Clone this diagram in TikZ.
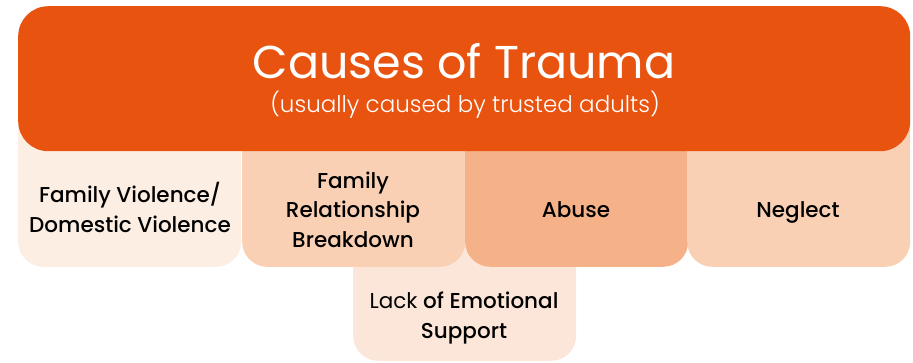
\documentclass[tikz,border=0pt]{standalone}
\usepackage{fontspec}
\setmainfont{Poppins}
\newfontfamily\regfont{Poppins}
\newfontfamily\medfont{Poppins Medium}
\newfontfamily\lightfont{Poppins Light}
\definecolor{headorange}{RGB}{232,83,16}
\definecolor{paleA}{RGB}{253,238,228}
\definecolor{paleB}{RGB}{249,208,179}
\definecolor{paleC}{RGB}{245,178,136}
\definecolor{paleD}{RGB}{252,230,217}
\begin{document}
\begin{tikzpicture}[x=1pt,y=-1pt,
  causebox/.style={rectangle, rounded corners=25pt, draw=none, inner sep=0pt,
    minimum width=223pt, anchor=south west},
  causetext/.style={align=center, text=black, inner sep=0pt, anchor=base,
    font=\medfont\fontsize{21.5}{29.5}\selectfont},
  headbox/.style={rectangle, rounded corners=30pt, draw=none, fill=headorange,
    inner sep=0pt, minimum width=892pt, minimum height=145pt, anchor=north west}]
\useasboundingbox (0,0) rectangle (913,362);

% lower box, partly hidden behind the row above it
\node[causebox, fill=paleD, minimum height=161pt] (support) at (353,361) {};
% row of four causes
\node[causebox, fill=paleA, minimum height=207pt] (violence) at (18,267) {};
\node[causebox, fill=paleB, minimum height=207pt] (breakdown) at (242,267) {};
\node[causebox, fill=paleC, minimum height=207pt] (abuse) at (465,267) {};
\node[causebox, fill=paleB, minimum height=207pt] (neglect) at (687,267) {};
% header on top
\node[headbox] (head) at (18,6) {};

% labels (placed on the baseline of their last line)
\node[text=white, inner sep=0pt, anchor=base, font=\regfont\fontsize{46}{46}\selectfont] (title) at (464,78) {Causes of Trauma};
\node[text=white, inner sep=0pt, anchor=base, font=\lightfont\fontsize{23}{23}\selectfont] (subtitle) at (465,112) {(usually caused by trusted adults)};

\node[causetext] (tviolence) at (130,232) {Family Violence/\\Domestic Violence};
\node[causetext] (tbreakdown) at (353,247) {Family\\Relationship\\Breakdown};
\node[causetext] (tabuse) at (576,217) {Abuse};
\node[causetext] (tneglect) at (798,217) {Neglect};
\node[causetext] (tsupport) at (464,338) {{\regfont Lack} of Emotional\\Support};
\end{tikzpicture}
\end{document}
